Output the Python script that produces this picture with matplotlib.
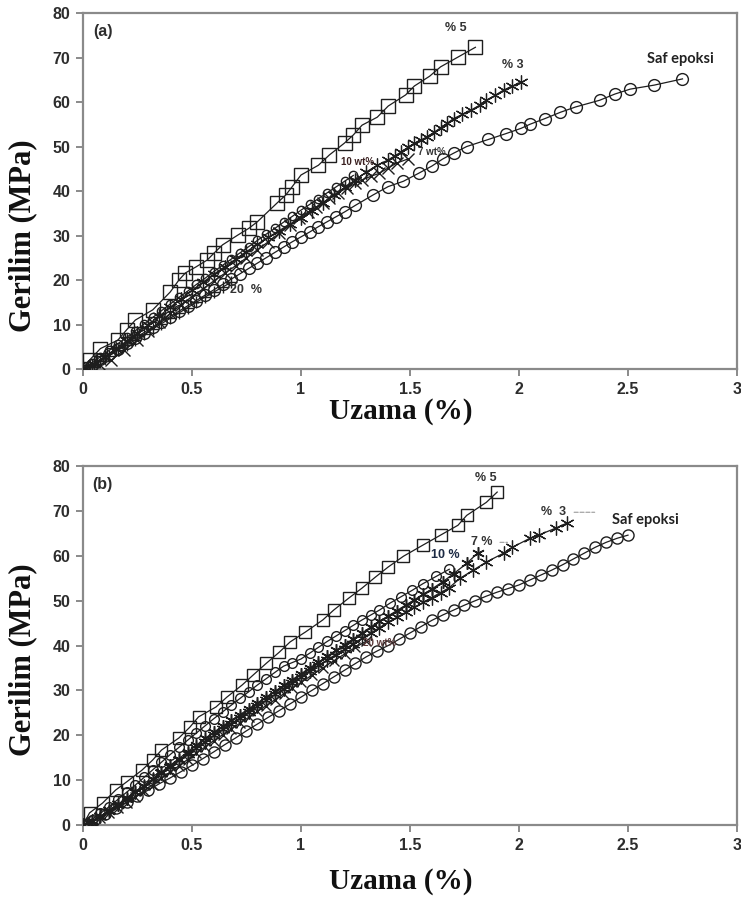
import matplotlib
matplotlib.use("Agg")
import matplotlib.pyplot as plt

# --- (a) ---------------------------------------------------------------
a_saf_x = [0, 0.04, 0.08, 0.12, 0.16, 0.2, 0.24, 0.28, 0.32, 0.36, 0.4, 0.44, 0.48, 0.52,
           0.56, 0.6, 0.64, 0.68, 0.72, 0.76, 0.8, 0.84, 0.88, 0.92, 0.96, 1.0, 1.04, 1.08,
           1.12, 1.16, 1.2, 1.25, 1.33, 1.40, 1.47, 1.54, 1.60, 1.65, 1.70, 1.76, 1.86,
           1.94, 2.01, 2.05, 2.12, 2.19, 2.26, 2.37, 2.44, 2.51, 2.62, 2.75]
a_saf_y = [0, 1.0, 2.2, 3.4, 4.6, 5.8, 7.0, 8.2, 9.4, 10.6, 11.8, 13.0, 14.2, 15.4,
           16.6, 17.8, 19.0, 20.2, 21.4, 22.6, 23.8, 25.0, 26.2, 27.4, 28.6, 29.7, 30.8, 32.0,
           33.1, 34.2, 35.3, 36.8, 39.1, 41.0, 42.2, 44.0, 45.6, 47.2, 48.5, 50.0, 51.6,
           52.9, 54.1, 55.0, 56.3, 57.7, 58.9, 60.4, 61.8, 62.9, 63.8, 65.2]

a_p3_x = [0, 0.05, 0.1, 0.15, 0.2, 0.25, 0.3, 0.35, 0.4, 0.45, 0.5, 0.55, 0.6, 0.65, 0.7,
          0.75, 0.8, 0.85, 0.9, 0.95, 1.0, 1.05, 1.1, 1.15, 1.2, 1.25, 1.3, 1.35, 1.4, 1.43,
          1.46, 1.49, 1.52, 1.55, 1.58, 1.61, 1.64, 1.67, 1.70, 1.74, 1.78, 1.82, 1.85, 1.89,
          1.93, 1.97, 2.01]
a_p3_y = [0, 1.2, 2.8, 4.5, 6.3, 8.1, 10.0, 11.9, 13.9, 15.8, 17.7, 19.5, 21.3, 23.0, 24.7,
          26.4, 28.0, 29.6, 31.1, 32.6, 34.0, 35.6, 37.3, 39.0, 40.8, 42.5, 44.3, 45.8, 47.0, 47.9,
          48.8, 49.8, 50.7, 51.5, 52.2, 53.2, 54.2, 55.2, 56.3, 57.2, 58.2, 59.3, 60.4, 61.5,
          62.7, 63.6, 64.5]

a_p5_x = [0, 0.03, 0.08, 0.16, 0.2, 0.24, 0.32, 0.4, 0.44, 0.47, 0.52, 0.57, 0.6, 0.64,
          0.71, 0.76, 0.8, 0.89, 0.93, 0.96, 1.0, 1.08, 1.13, 1.2, 1.24, 1.28, 1.35, 1.4,
          1.48, 1.52, 1.59, 1.64, 1.72, 1.8]
a_p5_y = [0, 2.0, 4.6, 6.5, 8.8, 11.0, 13.3, 17.3, 20.0, 21.6, 23.0, 24.5, 26.0, 27.9,
          30.1, 31.6, 33.1, 37.3, 39.1, 41.0, 43.6, 45.8, 48.1, 50.8, 52.6, 54.8, 56.6, 59.1,
          61.6, 63.6, 65.8, 67.9, 70.1, 72.3]

a_p10_x = [0, 0.04, 0.08, 0.12, 0.16, 0.2, 0.24, 0.28, 0.32, 0.36, 0.4, 0.44, 0.48, 0.52,
           0.56, 0.6, 0.64, 0.68, 0.72, 0.76, 0.8, 0.84, 0.88, 0.92, 0.96, 1.0, 1.04, 1.08,
           1.12, 1.16, 1.2, 1.24]
a_p10_y = [0, 1.3, 2.8, 4.2, 5.7, 7.1, 8.6, 10.1, 11.6, 13.1, 14.6, 16.1, 17.5, 19.0,
           20.4, 21.9, 23.3, 24.7, 26.1, 27.5, 28.9, 30.3, 31.6, 33.0, 34.3, 35.7, 37.0, 38.3,
           39.6, 40.9, 42.2, 43.5]

a_p7_x = [0, 0.08, 0.13, 0.19, 0.25, 0.3, 0.35, 0.4, 0.45, 0.5, 0.55, 0.6, 0.65, 0.7, 0.75,
          0.8, 0.85, 0.9, 0.95, 0.99, 1.03, 1.07, 1.1, 1.13, 1.17, 1.21, 1.25, 1.28, 1.32,
          1.36, 1.4, 1.44, 1.49]
a_p7_y = [0, 1.0, 2.0, 4.3, 6.5, 8.5, 10.5, 12.5, 14.4, 16.3, 18.0, 19.8, 21.5, 23.2, 25.0,
          26.8, 28.6, 30.5, 32.3, 34.0, 35.2, 36.4, 37.4, 38.4, 39.6, 40.7, 41.7, 42.5, 43.3,
          44.0, 45.2, 46.3, 47.2]

a_p20_x = [0, 0.04, 0.08, 0.12, 0.16, 0.2, 0.24, 0.28, 0.32, 0.36, 0.4, 0.44, 0.48, 0.52,
           0.56, 0.6, 0.64, 0.68]
a_p20_y = [0, 0.8, 1.8, 3.0, 4.2, 5.4, 6.6, 7.8, 9.0, 10.2, 11.4, 12.6, 13.8, 15.0,
           16.2, 17.3, 18.4, 19.5]

# --- (b) ---------------------------------------------------------------
b_saf_x = [0, 0.05, 0.1, 0.15, 0.2, 0.25, 0.3, 0.35, 0.4, 0.45, 0.5, 0.55, 0.6, 0.65, 0.7,
           0.75, 0.8, 0.85, 0.9, 0.95, 1.0, 1.05, 1.1, 1.15, 1.2, 1.25, 1.3, 1.35, 1.4, 1.45,
           1.5, 1.55, 1.6, 1.65, 1.7, 1.75, 1.8, 1.85, 1.9, 1.95, 2.0, 2.05, 2.1, 2.15, 2.2,
           2.25, 2.3, 2.35, 2.4, 2.45, 2.5]
b_saf_y = [0, 1.1, 2.4, 3.7, 5.1, 6.5, 7.8, 9.2, 10.5, 11.9, 13.3, 14.8, 16.3, 17.9, 19.4,
           21.0, 22.5, 24.0, 25.5, 27.0, 28.5, 30.0, 31.5, 33.0, 34.5, 36.0, 37.5, 38.8, 40.0, 41.4,
           42.8, 44.2, 45.6, 46.8, 47.9, 49.0, 50.0, 51.0, 51.9, 52.7, 53.5, 54.6, 55.7, 56.8, 58.0,
           59.3, 60.6, 61.9, 63.0, 63.9, 64.6]

b_p3_x = [0, 0.04, 0.08, 0.12, 0.16, 0.2, 0.24, 0.28, 0.32, 0.36, 0.4, 0.44, 0.48, 0.52,
          0.56, 0.6, 0.64, 0.68, 0.72, 0.76, 0.8, 0.84, 0.88, 0.92, 0.96, 1.0, 1.04, 1.08,
          1.12, 1.16, 1.2, 1.24, 1.28, 1.32, 1.36, 1.4, 1.44, 1.48, 1.52, 1.56, 1.6, 1.64,
          1.68, 1.73, 1.79, 1.85, 1.93, 1.97, 2.05, 2.09, 2.17, 2.22]
b_p3_y = [0, 0.9, 2.0, 3.3, 4.6, 6.0, 7.4, 8.8, 10.2, 11.6, 13.0, 14.4, 15.8, 17.2,
          18.6, 20.0, 21.3, 22.6, 23.9, 25.2, 26.5, 27.8, 29.1, 30.4, 31.7, 33.0, 34.3, 35.6,
          36.8, 38.0, 39.2, 40.4, 41.6, 42.8, 44.0, 45.2, 46.3, 47.4, 48.5, 49.6, 50.7, 51.8,
          52.9, 55.0, 56.8, 58.6, 60.6, 61.9, 63.9, 64.6, 66.2, 67.3]

b_p5_x = [0, 0.03, 0.09, 0.15, 0.2, 0.27, 0.32, 0.36, 0.44, 0.49, 0.53, 0.61, 0.66, 0.73,
          0.78, 0.84, 0.9, 0.95, 1.02, 1.1, 1.15, 1.22, 1.28, 1.34, 1.4, 1.47, 1.56, 1.64,
          1.72, 1.76, 1.85, 1.9]
b_p5_y = [0, 2.7, 4.9, 7.8, 9.6, 12.2, 14.5, 16.7, 19.4, 21.8, 24.1, 26.3, 28.5, 31.2,
          33.4, 36.0, 38.5, 40.8, 43.0, 45.7, 47.9, 50.6, 52.8, 55.2, 57.5, 59.9, 62.4, 64.6,
          66.8, 69.0, 71.9, 74.2]

b_p7_x = [0, 0.04, 0.08, 0.12, 0.16, 0.2, 0.24, 0.28, 0.32, 0.36, 0.4, 0.44, 0.48, 0.52,
          0.56, 0.6, 0.64, 0.68, 0.72, 0.76, 0.8, 0.84, 0.88, 0.92, 0.96, 1.0, 1.04, 1.08,
          1.12, 1.16, 1.2, 1.24, 1.28, 1.32, 1.36, 1.4, 1.44, 1.48, 1.52, 1.56, 1.6, 1.65,
          1.7, 1.76, 1.81]
b_p7_y = [0, 0.8, 1.9, 3.1, 4.5, 5.9, 7.3, 8.8, 10.3, 11.8, 13.3, 14.8, 16.3, 17.8,
          19.3, 20.7, 22.0, 23.3, 24.6, 25.9, 27.2, 28.5, 29.8, 31.1, 32.4, 33.7, 35.0, 36.3,
          37.6, 38.9, 40.2, 41.5, 42.8, 44.1, 45.4, 46.6, 47.8, 49.0, 50.2, 51.4, 52.6, 54.2,
          56.0, 58.3, 60.6]

b_p10_x = [0, 0.04, 0.08, 0.12, 0.16, 0.2, 0.24, 0.28, 0.32, 0.36, 0.4, 0.44, 0.48, 0.52,
           0.56, 0.6, 0.64, 0.68, 0.72, 0.76, 0.8, 0.84, 0.88, 0.92, 0.96, 1.0, 1.04, 1.08,
           1.12, 1.16, 1.2, 1.24, 1.28, 1.32, 1.36, 1.41, 1.46, 1.51, 1.56, 1.62, 1.68]
b_p10_y = [0, 1.2, 2.6, 4.1, 5.7, 7.3, 8.9, 10.6, 12.3, 14.0, 15.7, 17.3, 18.9, 20.5,
           22.1, 23.7, 25.2, 26.7, 28.2, 29.7, 31.2, 32.6, 34.0, 35.4, 36.2, 37.0, 38.3, 39.6,
           40.9, 42.1, 43.3, 44.5, 45.7, 46.8, 47.9, 49.5, 50.9, 52.3, 53.8, 55.4, 57.0]

b_p20_x = [0, 0.04, 0.08, 0.12, 0.16, 0.2, 0.24, 0.28, 0.32, 0.36, 0.4, 0.44, 0.48, 0.52,
           0.56, 0.6, 0.64, 0.68, 0.72, 0.76, 0.8, 0.84, 0.88, 0.92, 0.96, 1.0, 1.05, 1.1,
           1.15, 1.2, 1.25, 1.3]
b_p20_y = [0, 0.6, 1.5, 2.6, 3.8, 5.0, 6.3, 7.6, 9.0, 10.4, 11.8, 13.2, 14.6, 16.0,
           17.4, 18.8, 20.1, 21.4, 22.7, 24.0, 25.3, 26.6, 27.9, 29.2, 30.5, 31.8, 33.4, 35.0,
           36.6, 38.1, 39.6, 41.0]

x_ticks = [0, 0.5, 1, 1.5, 2, 2.5, 3]
x_tick_labels = ["0", "0.5", "1", "1.5", "2", "2.5", "3"]
y_ticks = [0, 10, 20, 30, 40, 50, 60, 70, 80]

INK = "#1e1e1e"
SPINE = "#8a8a8a"
TICK_TXT = "#2d2d2d"
SANS = ["Liberation Sans", "DejaVu Sans"]
SERIF = ["Liberation Serif", "DejaVu Serif"]


def curve(ax, x, y, marker, ms, mew=1.0):
    ax.plot(x, y, color=INK, lw=0.9, marker=marker, ms=ms, mfc="none",
            mec=INK, mew=mew, zorder=3)


def style_axes(ax, tag):
    ax.set_xlim(0, 3)
    ax.set_ylim(0, 80)
    ax.set_xticks(x_ticks)
    ax.set_xticklabels(x_tick_labels)
    ax.set_yticks(y_ticks)
    for sp in ax.spines.values():
        sp.set_color(SPINE)
        sp.set_linewidth(1.6)
    ax.tick_params(direction="out", length=5, width=1.4, color=SPINE, pad=4,
                   labelsize=11.5, labelcolor=TICK_TXT)
    for lab in ax.get_xticklabels() + ax.get_yticklabels():
        lab.set_fontfamily(SANS)
        lab.set_fontweight("bold")
    ax.text(0.09, 75.8, tag, ha="center", va="center", fontsize=11.5,
            fontweight="bold", family=SANS, color=TICK_TXT)


def note(ax, x, y, s, size=9, color="#333333", family=SANS):
    ax.text(x, y, s, ha="center", va="center", fontsize=size, fontweight="bold",
            family=family, color=color, zorder=5)


fig = plt.figure(figsize=(7.41, 8.99), dpi=100)
ax_a = fig.add_axes([0.112, 0.5895, 0.8826, 0.396])
ax_b = fig.add_axes([0.112, 0.0823, 0.8826, 0.3993])

# panel (a)
curve(ax_a, a_p20_x, a_p20_y, "+", 8)
curve(ax_a, a_p7_x, a_p7_y, "x", 8)
curve(ax_a, a_p10_x, a_p10_y, "o", 6)
curve(ax_a, a_p3_x, a_p3_y, (6, 2, 0), 10, 0.9)
curve(ax_a, a_saf_x, a_saf_y, "o", 8.5)
curve(ax_a, a_p5_x, a_p5_y, "s", 9.5)
style_axes(ax_a, "(a)")
note(ax_a, 1.71, 76.6, "% 5")
note(ax_a, 1.97, 68.3, "% 3")
note(ax_a, 2.74, 69.7, "Saf epoksi", size=10.5, color="#222222", family=["Lato", "DejaVu Sans"])
note(ax_a, 1.26, 46.5, "10 wt%", size=7, color="#3a2020")
note(ax_a, 1.6, 48.8, "7 wt%", size=7)
note(ax_a, 0.75, 17.8, "20  %", size=9)

# panel (b)
curve(ax_b, b_p20_x, b_p20_y, "x", 7)
curve(ax_b, b_p7_x, b_p7_y, (6, 2, 0), 9, 1.1)
curve(ax_b, b_p10_x, b_p10_y, "o", 7)
curve(ax_b, b_p3_x, b_p3_y, (6, 2, 0), 10, 0.9)
curve(ax_b, b_saf_x, b_saf_y, "o", 8)
curve(ax_b, b_p5_x, b_p5_y, "s", 9)
style_axes(ax_b, "(b)")
note(ax_b, 1.85, 77.3, "% 5")
note(ax_b, 2.16, 69.7, "%  3")
note(ax_b, 2.58, 67.9, "Saf epoksi", size=10.5, color="#222222", family=["Lato", "DejaVu Sans"])
note(ax_b, 1.83, 63.0, "7 %")
note(ax_b, 1.66, 60.1, "10 %", color="#1c2a44")
note(ax_b, 1.36, 40.5, "20 wt%", size=7, color="#5a3a3a")
ax_b.annotate("", xy=(2.36, 69.7), xytext=(2.24, 69.7),
              arrowprops=dict(arrowstyle="-", color="#9a9a9a", lw=0.8, ls="--"))
ax_b.annotate("", xy=(1.96, 63.0), xytext=(1.9, 63.0),
              arrowprops=dict(arrowstyle="-", color="#9a9a9a", lw=0.8, ls="--"))

# axis titles, placed by hand in figure coordinates
for yc in (0.5425, 0.0195):
    fig.text(0.541, yc, "Uzama (%)", ha="center", va="center", fontsize=21,
             fontweight="bold", family=SERIF, color="#111111")
for yc in (0.738, 0.266):
    fig.text(0.030, yc, "Gerilim (MPa)", ha="center", va="center", rotation=90,
             fontsize=22, fontweight="bold", family=SERIF, color="#111111")

fig.savefig("out.png", dpi=100)
